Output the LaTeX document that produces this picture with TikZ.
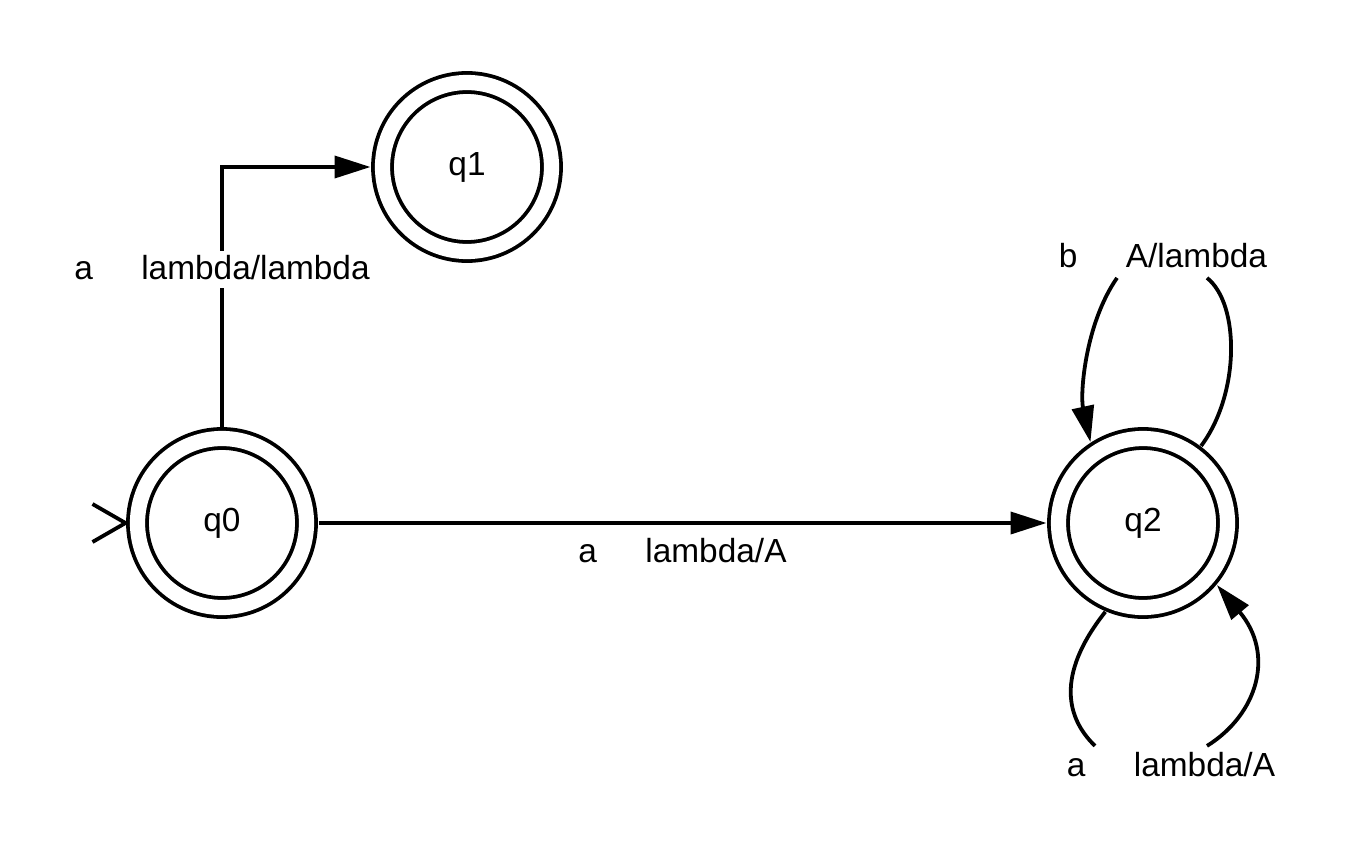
\documentclass[tikz,border=0pt]{standalone}
\usepackage{fontspec}
\setmainfont{Liberation Sans}
\usetikzlibrary{arrows.meta,calc}
\newcommand{\lblgap}{\hspace{1.45em}}
\begin{document}
\begin{tikzpicture}[x=0.5pt, y=0.5pt, line width=1.9pt, >={Triangle[length=18pt,width=11pt]}, font=\fontsize{16.7pt}{20pt}\selectfont]
        \tikzstyle{state} = [circle, draw, double, double distance=7.6pt, minimum size=84.5pt, inner sep=0pt, outer sep=6pt]
        \tikzstyle{lbl} = [fill=white, inner sep=2pt, text depth=0.25em, anchor=base]

        \useasboundingbox (0,0) rectangle (1352,864);

        \node [state] (q0) at (222,341) {q0};
        \node [state] (q1) at (467,697) {q1};
        \node [state] (q2) at (1143,341) {q2};

        \draw ($(q0.west)+(-33,19)$) -- (q0.west) -- ($(q0.west)+(-33,-19)$);

        \draw [->] (q0) |- (q1) node [lbl, pos=0.284] (lblQ1) {a\lblgap lambda/lambda};
        \draw [->] (q0) -- (q2) node [lbl, midway, yshift=-19.5pt] (lblQ2) {a\lblgap lambda/A};

        \node [lbl] (lblB) at (1163,597) {b\lblgap A/lambda};
        \draw (q2.53) .. controls (1240,470) and (1240,560) .. ([xshift=22pt]lblB.south);
        \draw [->] ([xshift=-23pt]lblB.south) .. controls (1085,540) and (1080,470) .. (q2.123);

        \node [lbl] (lblA) at (1171,88) {a\lblgap lambda/A};
        \draw (q2.247) .. controls (1060,195) and (1062,150) .. ([xshift=-38pt]lblA.north);
        \draw [->] ([xshift=18pt]lblA.north) .. controls (1258,150) and (1275,210) .. (q2.320);
    \end{tikzpicture}
\end{document}
